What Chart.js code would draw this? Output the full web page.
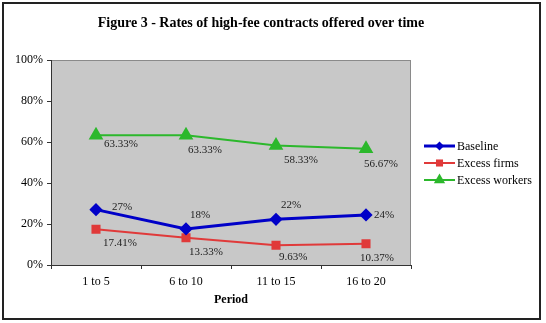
<!DOCTYPE html>
<html>
<head>
<meta charset="utf-8">
<script src="https://cdn.jsdelivr.net/npm/chart.js@4/dist/chart.umd.min.js"></script>
<style>
  body { margin: 0; background: #fff; }
  #wrap { width: 546px; height: 323px; }
</style>
</head>
<body>
<div id="wrap"><canvas id="rateChart" width="546" height="323"></canvas></div>
<script>
// data
const periods = ["1 to 5", "6 to 10", "11 to 15", "16 to 20"];
const baseline = [27, 17.6, 22.3, 24.4];
const excessFirms = [17.41, 13.33, 9.63, 10.37];
const excessWorkers = [63.33, 63.33, 58.33, 56.67];
const yTicks = [0, 20, 40, 60, 80, 100];

const serif = "'Liberation Serif', 'Times New Roman', serif";

// label offsets (text left edge / middle) relative to each point
const labelOffsets = [
    [[16, -3], [4, -14], [5, -14], [8, 0]],
    [[7, 14], [3, 14], [3, 12], [-6, 14]],
    [[8, 9], [2, 15], [8, 15], [-2, 15]]
];

function drawMarker(ctx, style, x, y, r, color) {
    ctx.save();
    ctx.fillStyle = color;
    ctx.beginPath();
    if (style === "rectRot") {
        ctx.moveTo(x, y - r);
        ctx.lineTo(x + r, y);
        ctx.lineTo(x, y + r);
        ctx.lineTo(x - r, y);
    } else if (style === "rect") {
        const s = r * Math.SQRT1_2;
        ctx.rect(x - s, y - s, 2 * s, 2 * s);
    } else {
        ctx.moveTo(x, y - r);
        ctx.lineTo(x + r * 0.866, y + r * 0.5);
        ctx.lineTo(x - r * 0.866, y + r * 0.5);
    }
    ctx.closePath();
    ctx.fill();
    ctx.restore();
}

const excelLook = {
    id: "excelLook",
    beforeDraw(chart) {
        const { ctx, chartArea: a } = chart;
        ctx.save();
        ctx.fillStyle = "#fff";
        ctx.fillRect(0, 0, chart.width, chart.height);
        ctx.fillStyle = "#c8c8c8";
        ctx.fillRect(a.left, a.top, a.right - a.left, a.bottom - a.top);
        ctx.strokeStyle = "#8a8a8a";
        ctx.lineWidth = 1;
        ctx.strokeRect(a.left + 0.5, a.top + 0.5, a.right - a.left - 1, a.bottom - a.top);
        ctx.restore();
    },
    afterDraw(chart) {
        const { ctx } = chart;
        ctx.save();
        // outer frame
        ctx.strokeStyle = "#222";
        ctx.lineWidth = 2;
        ctx.strokeRect(3, 3, 537, 316);

        // title
        ctx.fillStyle = "#000";
        ctx.font = "bold 14px " + serif;
        ctx.textAlign = "center";
        ctx.textBaseline = "middle";
        ctx.fillText("Figure 3 - Rates of high-fee contracts offered over time", 261, 23);

        // point labels
        ctx.font = "11px " + serif;
        ctx.textAlign = "left";
        chart.data.datasets.forEach((ds, i) => {
            chart.getDatasetMeta(i).data.forEach((pt, j) => {
                const v = ds.data[j];
                const txt = i === 0 ? Math.round(v) + "%" : v.toFixed(2) + "%";
                const off = labelOffsets[i][j];
                ctx.fillStyle = "#222";
                ctx.fillText(txt, pt.x + off[0], pt.y + off[1]);
            });
        });

        // legend
        const lx = 424, ly = 146, gap = 17;
        ctx.font = "12px " + serif;
        chart.data.datasets.forEach((ds, i) => {
            const y = ly + i * gap;
            ctx.strokeStyle = ds.borderColor;
            ctx.lineWidth = ds.borderWidth;
            ctx.beginPath();
            ctx.moveTo(lx, y);
            ctx.lineTo(lx + 31, y);
            ctx.stroke();
            drawMarker(ctx, ds.pointStyle, lx + 15.5, y, ds.pointRadius, ds.borderColor);
            ctx.fillStyle = "#000";
            ctx.fillText(ds.label, lx + 33, y + 1);
        });
        ctx.restore();
    }
};

new Chart(document.getElementById("rateChart"), {
    type: "line",
    data: {
        labels: periods,
        datasets: [
            { label: "Baseline", data: baseline, borderColor: "#0000c8", backgroundColor: "#0000c8",
              borderWidth: 3, pointStyle: "rectRot", pointRadius: 4.5 },
            { label: "Excess firms", data: excessFirms, borderColor: "#e03a3a", backgroundColor: "#e03a3a",
              borderWidth: 2, pointStyle: "rect", pointRadius: 5 },
            { label: "Excess workers", data: excessWorkers, borderColor: "#2cb82c", backgroundColor: "#2cb82c",
              borderWidth: 2, pointStyle: "triangle", pointRadius: 6.5 }
        ]
    },
    options: {
        responsive: false,
        animation: false,
        layout: { padding: { top: 60, left: 0, right: 135, bottom: 0 } },
        elements: { line: { tension: 0 }, point: { borderWidth: 0, hoverRadius: 5 } },
        plugins: { legend: { display: false }, title: { display: false }, tooltip: { enabled: false } },
        scales: {
            x: {
                offset: true,
                grid: { offset: true, drawOnChartArea: false, drawTicks: true, tickLength: 4, color: "#333" },
                border: { color: "#333", width: 1 },
                ticks: { color: "#000", padding: 6, font: { family: serif, size: 12 } },
                title: { display: true, text: "Period", color: "#000", padding: { bottom: 16 },
                         font: { family: serif, size: 12, weight: "bold" } },
                afterFit(scale) { scale.height = 58; }
            },
            y: {
                min: 0, max: 100,
                afterBuildTicks(scale) { scale.ticks = yTicks.map(v => ({ value: v })); },
                grid: { drawOnChartArea: false, drawTicks: true, tickLength: 4, color: "#333" },
                border: { color: "#333", width: 1 },
                ticks: { color: "#000", padding: 4, font: { family: serif, size: 12 },
                         callback: v => v + "%" },
                afterFit(scale) { scale.width = 51; }
            }
        }
    },
    plugins: [excelLook]
});
</script>
</body>
</html>
